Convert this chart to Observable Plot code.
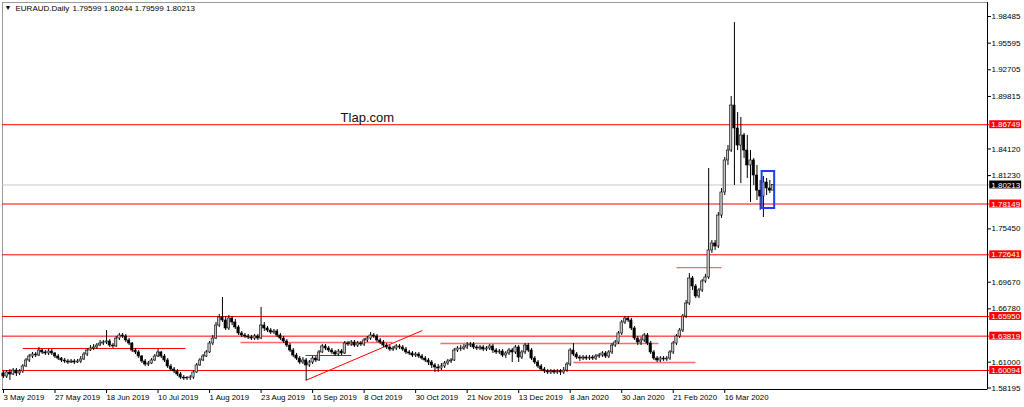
<!DOCTYPE html>
<html>
<head>
<meta charset="utf-8">
<script src="https://cdn.jsdelivr.net/npm/d3@7"></script>
<script src="https://cdn.jsdelivr.net/npm/@observablehq/plot@0.6"></script>
<style>
  body { margin: 0; background: white; }
  #chart svg { display: block; }
</style>
</head>
<body>
<div id="chart"></div>
<script>
// EURAUD daily candles, 3 May 2019 .. early Apr 2020 (bar index = trading day)
const firstOpen = 1.5977

const close = [
  1.5944,1.5988,1.5966,1.6009,1.5977,1.5999,1.6053,1.6118,1.6161,1.6183,
  1.6172,1.6226,1.6205,1.6194,1.6215,1.6194,1.6161,1.6139,1.6118,1.6107,
  1.6096,1.6107,1.6096,1.6107,1.6129,1.6183,1.6226,1.6248,1.6259,1.6280,
  1.6302,1.6313,1.6324,1.6280,1.6270,1.6356,1.6389,1.6378,1.6335,1.6302,
  1.6226,1.6205,1.6161,1.6107,1.6074,1.6085,1.6118,1.6161,1.6205,1.6161,
  1.6118,1.6053,1.6020,1.5999,1.5966,1.5933,1.5923,1.5926,1.5933,1.5988,
  1.6064,1.6118,1.6161,1.6205,1.6302,1.6356,1.6497,1.6584,1.6552,1.6465,
  1.6573,1.6530,1.6476,1.6411,1.6389,1.6378,1.6367,1.6356,1.6378,1.6356,
  1.6497,1.6465,1.6443,1.6421,1.6432,1.6389,1.6356,1.6324,1.6280,1.6226,
  1.6172,1.6139,1.6096,1.6118,1.6064,1.6096,1.6139,1.6118,1.6205,1.6270,
  1.6248,1.6226,1.6205,1.6183,1.6215,1.6194,1.6302,1.6291,1.6313,1.6280,
  1.6302,1.6291,1.6335,1.6356,1.6389,1.6378,1.6335,1.6313,1.6280,1.6259,
  1.6237,1.6248,1.6270,1.6259,1.6237,1.6205,1.6194,1.6172,1.6183,1.6161,
  1.6139,1.6118,1.6096,1.6064,1.6042,1.6031,1.6053,1.6085,1.6107,1.6118,
  1.6226,1.6248,1.6245,1.6259,1.6280,1.6291,1.6259,1.6248,1.6259,1.6237,
  1.6248,1.6270,1.6226,1.6205,1.6215,1.6172,1.6194,1.6226,1.6205,1.6259,
  1.6150,1.6205,1.6280,1.6226,1.6139,1.6096,1.6053,1.6020,1.5999,1.5988,
  1.5999,1.5988,1.5999,1.5988,1.6009,1.6074,1.6226,1.6183,1.6150,1.6139,
  1.6150,1.6139,1.6150,1.6139,1.6161,1.6172,1.6194,1.6161,1.6205,1.6280,
  1.6313,1.6411,1.6530,1.6573,1.6552,1.6465,1.6356,1.6313,1.6335,1.6389,
  1.6302,1.6205,1.6139,1.6118,1.6139,1.6129,1.6139,1.6205,1.6302,1.6378,
  1.6443,1.6595,1.6736,1.7007,1.6920,1.6812,1.6877,1.6975,1.7018,1.7311,
  1.7387,1.7354,1.7690,1.7940,1.8287,1.8395,1.8883,1.8634,1.8449,1.8558,
  1.8395,1.8233,1.8287,1.8124,1.7960,1.7896,1.8048,1.7983,1.79599,1.80213
]

const high = [
  1.5999,1.6009,1.6020,1.6031,1.6031,1.6020,1.6074,1.6139,1.6183,1.6205,
  1.6205,1.6259,1.6237,1.6226,1.6237,1.6237,1.6205,1.6183,1.6150,1.6139,
  1.6129,1.6129,1.6129,1.6129,1.6161,1.6205,1.6248,1.6280,1.6291,1.6302,
  1.6335,1.6335,1.6443,1.6345,1.6302,1.6378,1.6411,1.6411,1.6400,1.6356,
  1.6313,1.6248,1.6226,1.6172,1.6129,1.6107,1.6139,1.6183,1.6237,1.6215,
  1.6183,1.6139,1.6074,1.6042,1.6020,1.5988,1.5955,1.5944,1.5955,1.6009,
  1.6085,1.6139,1.6183,1.6226,1.6324,1.6389,1.6530,1.6617,1.6801,1.6595,
  1.6606,1.6595,1.6562,1.6497,1.6432,1.6411,1.6400,1.6389,1.6400,1.6400,
  1.6693,1.6530,1.6486,1.6465,1.6454,1.6454,1.6411,1.6378,1.6345,1.6302,
  1.6248,1.6194,1.6161,1.6150,1.6139,1.6118,1.6161,1.6161,1.6226,1.6291,
  1.6291,1.6270,1.6248,1.6226,1.6237,1.6237,1.6324,1.6324,1.6335,1.6335,
  1.6324,1.6324,1.6356,1.6378,1.6421,1.6411,1.6400,1.6356,1.6335,1.6302,
  1.6280,1.6270,1.6291,1.6291,1.6280,1.6259,1.6226,1.6215,1.6205,1.6205,
  1.6183,1.6161,1.6139,1.6118,1.6085,1.6074,1.6085,1.6107,1.6129,1.6139,
  1.6248,1.6270,1.6280,1.6291,1.6313,1.6313,1.6313,1.6280,1.6280,1.6280,
  1.6270,1.6291,1.6291,1.6248,1.6237,1.6237,1.6215,1.6248,1.6248,1.6280,
  1.6280,1.6226,1.6302,1.6302,1.6248,1.6161,1.6118,1.6074,1.6042,1.6020,
  1.6020,1.6020,1.6020,1.6020,1.6042,1.6096,1.6248,1.6302,1.6205,1.6172,
  1.6172,1.6172,1.6172,1.6172,1.6183,1.6194,1.6215,1.6215,1.6226,1.6302,
  1.6335,1.6432,1.6552,1.6595,1.6595,1.6573,1.6486,1.6378,1.6367,1.6411,
  1.6411,1.6324,1.6226,1.6161,1.6161,1.6161,1.6161,1.6226,1.6324,1.6400,
  1.6465,1.6617,1.6769,1.7061,1.7029,1.6942,1.6899,1.6996,1.7050,1.8200,
  1.7419,1.7419,1.7723,1.7983,1.8319,1.8449,1.8981,1.9783,1.8807,1.8753,
  1.8580,1.8558,1.8395,1.8309,1.8233,1.8070,1.8113,1.8092,1.8070,1.80244
]

const low = [
  1.5923,1.5923,1.5901,1.5955,1.5944,1.5955,1.5977,1.6042,1.6096,1.6139,
  1.6150,1.6161,1.6183,1.6172,1.6172,1.6172,1.6139,1.6118,1.6096,1.6085,
  1.6074,1.6085,1.6074,1.6085,1.6085,1.6118,1.6161,1.6215,1.6226,1.6237,
  1.6270,1.6280,1.6291,1.6259,1.6248,1.6259,1.6335,1.6356,1.6313,1.6280,
  1.6205,1.6183,1.6139,1.6085,1.6053,1.6053,1.6074,1.6107,1.6150,1.6139,
  1.6096,1.6031,1.5999,1.5977,1.5944,1.5912,1.5901,1.5901,1.5901,1.5912,
  1.5977,1.6053,1.6107,1.6150,1.6194,1.6280,1.6345,1.6476,1.6530,1.6443,
  1.6443,1.6497,1.6454,1.6389,1.6367,1.6356,1.6345,1.6335,1.6335,1.6335,
  1.6345,1.6432,1.6421,1.6400,1.6400,1.6367,1.6335,1.6302,1.6259,1.6205,
  1.6150,1.6118,1.6074,1.6074,1.5901,1.6042,1.6074,1.6096,1.6107,1.6194,
  1.6226,1.6205,1.6183,1.6161,1.6161,1.6172,1.6183,1.6270,1.6270,1.6259,
  1.6259,1.6270,1.6270,1.6313,1.6335,1.6356,1.6313,1.6291,1.6259,1.6237,
  1.6215,1.6215,1.6226,1.6237,1.6215,1.6183,1.6172,1.6150,1.6150,1.6139,
  1.6118,1.6096,1.6064,1.6031,1.5988,1.5988,1.6009,1.6031,1.6064,1.6085,
  1.6107,1.6205,1.6215,1.6226,1.6237,1.6259,1.6237,1.6226,1.6226,1.6215,
  1.6215,1.6226,1.6194,1.6183,1.6183,1.6150,1.6139,1.6172,1.6096,1.6183,
  1.6096,1.6129,1.6183,1.6205,1.6118,1.6074,1.6031,1.5999,1.5977,1.5966,
  1.5966,1.5966,1.5966,1.5955,1.5966,1.5988,1.6053,1.6161,1.6129,1.6107,
  1.6118,1.6118,1.6118,1.6118,1.6118,1.6139,1.6150,1.6139,1.6139,1.6183,
  1.6259,1.6291,1.6389,1.6508,1.6530,1.6443,1.6335,1.6280,1.6280,1.6313,
  1.6280,1.6183,1.6118,1.6096,1.6096,1.6107,1.6107,1.6118,1.6183,1.6280,
  1.6356,1.6421,1.6573,1.6714,1.6877,1.6790,1.6790,1.6855,1.6953,1.6996,
  1.7278,1.7311,1.7332,1.7658,1.7907,1.8233,1.8374,1.8016,1.8395,1.8037,
  1.8309,1.8092,1.7831,1.8016,1.7853,1.7745,1.7669,1.7907,1.7929,1.79599
]

// date labels every 16 bars
const dateLabels = ['3 May 2019','27 May 2019','18 Jun 2019','10 Jul 2019','1 Aug 2019','23 Aug 2019',
  '16 Sep 2019','8 Oct 2019','30 Oct 2019','21 Nov 2019','13 Dec 2019','8 Jan 2020',
  '30 Jan 2020','21 Feb 2020','16 Mar 2020']
const priceTicks = [1.98485,1.95595,1.92705,1.89815,1.84120,1.81230,1.75450,1.69670,1.66780,1.61000,1.58195]

// horizontal levels drawn on the chart
const levels = [1.86749, 1.78149, 1.72641, 1.65950, 1.63819, 1.60094]
const lastPrice = 1.80213
const header = ['EURAUD.Daily', '1.79599 1.80244 1.79599 1.80213']

// short lines: [bar from, price from, bar to, price to]
const segRed = [[6, 1.6248, 56.5, 1.6248], [93.8, 1.6172, 108, 1.6172], [93.8, 1.5901, 130.1, 1.6443]]
const segLight = [[73.6, 1.6313, 120.8, 1.6313], [135.7, 1.6302, 203.4, 1.6302],
  [177, 1.6096, 214.9, 1.6096], [209, 1.7126, 223, 1.7126]]
const box = [235.6, 1.81675, 239.5, 1.77663]

const bars = close.map((c, i) => ({
  i, c, h: high[i], l: low[i],
  o: i ? close[i - 1] : firstOpen   // forex daily bars open at the prior close
}))

const xMin = -0.31, xMax = 305.6, xLab = 306.3, xLabEnd = 316.2
const yMin = 1.58033, yMax = 2.00003
const tag = 0.0043

let chart = Plot.plot({
  width: 1024,
  height: 407,
  marginLeft: 2,
  marginRight: 37,
  marginTop: 2,
  marginBottom: 18,
  x: { type: 'linear', domain: [xMin, xMax] },
  y: { domain: [yMin, yMax] },
  style: {
    fontFamily: '"Liberation Sans", Arial, sans-serif',
    fontSize: 8,
    background: 'white',
    color: 'black',
  },
  marks: [
    Plot.frame({ stroke: '#9a9a9a' }),
    Plot.ruleY([lastPrice], { x1: xMin, x2: xLab, stroke: '#c8c8c8' }),
    Plot.ruleY(levels, { x1: xMin, x2: xLab, stroke: '#ff0000' }),
    Plot.link(segLight, { x1: d => d[0], y1: d => d[1], x2: d => d[2], y2: d => d[3], stroke: '#ff6a6a', strokeWidth: 1.3 }),
    Plot.link(segRed, { x1: d => d[0], y1: d => d[1], x2: d => d[2], y2: d => d[3], stroke: '#ff0000' }),
    Plot.ruleX(bars, { x: 'i', y1: 'l', y2: 'h', stroke: 'black', strokeWidth: 1 }),
    Plot.rect(bars, {
      x1: d => d.i - 0.36, x2: d => d.i + 0.36, y1: 'o', y2: 'c',
      fill: d => d.c >= d.o ? '#c4c4c4' : 'black',
      stroke: 'black', strokeWidth: 0.6
    }),
    Plot.rect([box], { x1: d => d[0], y1: d => d[1], x2: d => d[2], y2: d => d[3], fill: 'none', stroke: '#1e3cff', strokeWidth: 2 }),
    Plot.text(['Tlap.com'], { x: 113, y: 1.8753, fontSize: 13, fill: '#111' }),
    // chart header
    Plot.text(['\u25BC'], { frameAnchor: 'top-left', dx: 2, dy: 3, fontSize: 7 }),
    Plot.text([header[0]], { frameAnchor: 'top-left', dx: 13, dy: 2.5, fontSize: 8 }),
    Plot.text([header[1]], { frameAnchor: 'top-left', dx: 70, dy: 2.5, fontSize: 8 }),
    // axes
    Plot.ruleX([xMax], { stroke: 'black' }),
    Plot.ruleY([yMin], { stroke: 'black' }),
    Plot.axisY({ anchor: 'right', ticks: priceTicks, tickFormat: d3.format('.5f'), tickSize: 3, tickPadding: 1, fontSize: 8, label: null }),
    Plot.axisX({ ticks: dateLabels.map((d, k) => k * 16), tickFormat: i => dateLabels[i / 16], tickSize: 4, tickPadding: 1, textAnchor: 'start', fontSize: 7.8, label: null }),
    // price tags on the axis
    Plot.rect(levels, { x1: xLab, x2: xLabEnd, y1: d => d - tag, y2: d => d + tag, fill: '#ff0000' }),
    Plot.rect([lastPrice], { x1: xLab, x2: xLabEnd, y1: d => d - tag, y2: d => d + tag, fill: 'black' }),
    Plot.text(levels.concat([lastPrice]), { x: xLab, y: d => d, dx: 1.5, text: d3.format('.5f'), textAnchor: 'start', fill: 'white', fontSize: 8 }),
  ],
})
d3.select('#chart').append(() => chart)
</script>
</body>
</html>
